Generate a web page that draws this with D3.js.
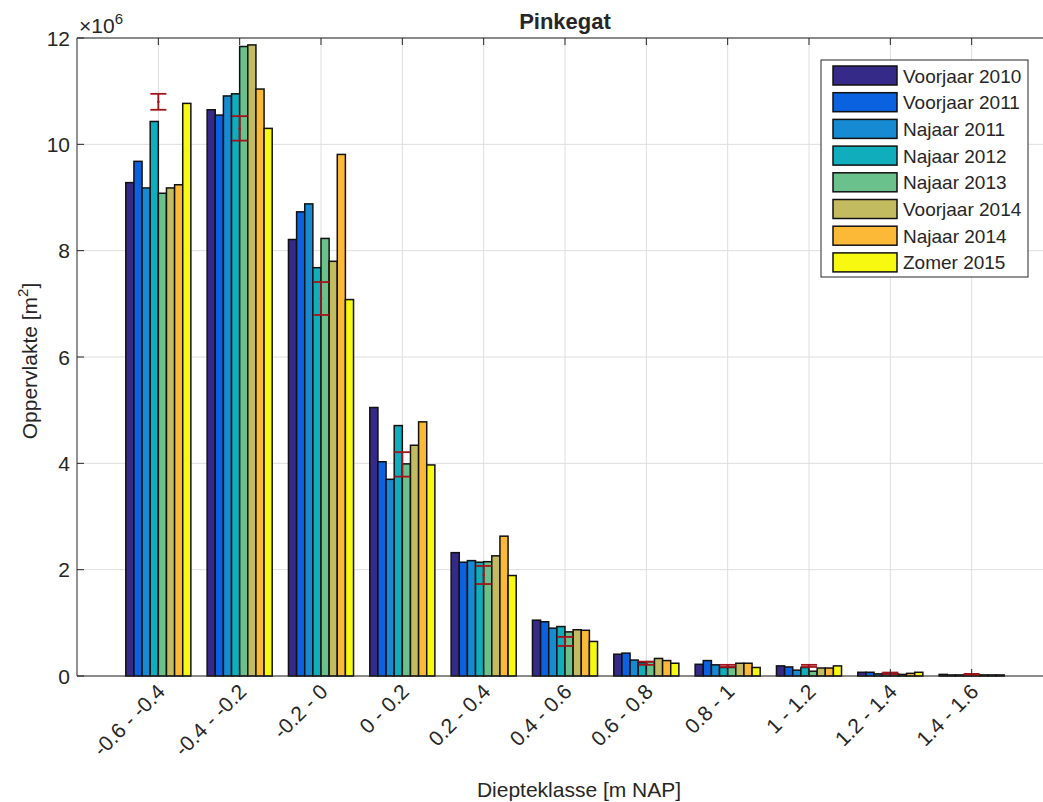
<!DOCTYPE html>
<html>
<head>
<meta charset="utf-8">
<script src="https://cdn.jsdelivr.net/npm/d3@7"></script>
<style>
  body { margin: 0; background: #fff; }
  text { font-family: "Liberation Sans", Arial, Helvetica, sans-serif; fill: #262626; }
</style>
</head>
<body>
<svg id="chart" width="1043" height="802"></svg>
<script>
// depth classes (m NAP)
var categories = ["-0.6 - -0.4", "-0.4 - -0.2", "-0.2 - 0", "0 - 0.2", "0.2 - 0.4", "0.4 - 0.6",
                  "0.6 - 0.8", "0.8 - 1", "1 - 1.2", "1.2 - 1.4", "1.4 - 1.6"];
var seriesNames = ["Voorjaar 2010", "Voorjaar 2011", "Najaar 2011", "Najaar 2012",
                   "Najaar 2013", "Voorjaar 2014", "Najaar 2014", "Zomer 2015"];
var seriesColors = ["#352a87", "#0b62e0", "#168ad2", "#10aebd", "#6bc18b", "#c3bb5f", "#fcb938", "#f8f910"];

// surface per class, x 10^6 m2, one array per survey
var voorjaar2010 = [9.28, 10.65, 8.21, 5.05, 2.32, 1.05, 0.41, 0.22, 0.19, 0.07, 0.03];
var voorjaar2011 = [9.68, 10.55, 8.73, 4.03, 2.14, 1.02, 0.43, 0.29, 0.17, 0.07, 0.02];
var najaar2011   = [9.18, 10.91, 8.88, 3.70, 2.17, 0.90, 0.30, 0.21, 0.11, 0.04, 0.02];
var najaar2012   = [10.43, 10.95, 7.68, 4.71, 2.14, 0.93, 0.25, 0.16, 0.16, 0.05, 0.02];
var najaar2013   = [9.08, 11.84, 8.23, 3.99, 2.15, 0.83, 0.27, 0.16, 0.09, 0.04, 0.02];
var voorjaar2014 = [9.18, 11.87, 7.80, 4.34, 2.26, 0.87, 0.33, 0.24, 0.15, 0.03, 0.02];
var najaar2014   = [9.24, 11.04, 9.81, 4.78, 2.63, 0.86, 0.29, 0.24, 0.15, 0.05, 0.02];
var zomer2015    = [10.77, 10.30, 7.08, 3.97, 1.89, 0.65, 0.24, 0.16, 0.19, 0.07, 0.02];

// error bars (mean and half-width)
var errMean = [10.80, 10.30, 7.10, 3.98, 1.90, 0.65, 0.24, 0.19, 0.19, 0.05, 0.03];
var errHalf = [0.15, 0.23, 0.31, 0.23, 0.17, 0.085, 0.03, 0.02, 0.02, 0.015, 0.01];

var yTicks = [0, 2, 4, 6, 8, 10, 12];

var allSeries = [voorjaar2010, voorjaar2011, najaar2011, najaar2012, najaar2013, voorjaar2014, najaar2014, zomer2015];

var svg = d3.select("#chart");
var pLeft = 77, pRight = 1053, pTop = 38, pBottom = 676;

var x = d3.scaleLinear().domain([0, 12]).range([pLeft, pRight]);
var y = d3.scaleLinear().domain([0, 12]).range([pBottom, pTop]);
var groupW = (x(1) - x(0)) * 0.8;
var xs = d3.scaleBand().domain(d3.range(seriesNames.length)).range([-groupW / 2, groupW / 2]);

svg.append("defs").append("clipPath").attr("id", "plotclip")
  .append("rect").attr("x", pLeft).attr("y", pTop - 2).attr("width", pRight - pLeft).attr("height", pBottom - pTop + 4);

var plot = svg.append("g").attr("clip-path", "url(#plotclip)");

// grid
plot.selectAll(".gy").data(yTicks).enter().append("line")
  .attr("x1", pLeft).attr("x2", pRight)
  .attr("y1", function (d) { return y(d); }).attr("y2", function (d) { return y(d); })
  .attr("stroke", "#dedede").attr("stroke-width", 1);
plot.selectAll(".gx").data(categories).enter().append("line")
  .attr("x1", function (d, i) { return x(i + 1); }).attr("x2", function (d, i) { return x(i + 1); })
  .attr("y1", pTop).attr("y2", pBottom)
  .attr("stroke", "#dedede").attr("stroke-width", 1);

// bars
allSeries.forEach(function (vals, s) {
  plot.selectAll(".bar" + s).data(vals).enter().append("rect")
    .attr("x", function (d, i) { return x(i + 1) + xs(s); })
    .attr("width", xs.bandwidth())
    .attr("y", function (d) { return y(d); })
    .attr("height", function (d) { return y(0) - y(d); })
    .attr("fill", seriesColors[s])
    .attr("stroke", "#111").attr("stroke-width", 1.5);
});

// error bars
var eb = plot.selectAll(".eb").data(errMean).enter().append("g");
eb.append("line")
  .attr("x1", function (d, i) { return x(i + 1); }).attr("x2", function (d, i) { return x(i + 1); })
  .attr("y1", function (d, i) { return y(d - errHalf[i]); })
  .attr("y2", function (d, i) { return y(d + errHalf[i]); });
eb.append("line")
  .attr("x1", function (d, i) { return x(i + 1) - 8; }).attr("x2", function (d, i) { return x(i + 1) + 8; })
  .attr("y1", function (d, i) { return y(d - errHalf[i]); })
  .attr("y2", function (d, i) { return y(d - errHalf[i]); });
eb.append("line")
  .attr("x1", function (d, i) { return x(i + 1) - 8; }).attr("x2", function (d, i) { return x(i + 1) + 8; })
  .attr("y1", function (d, i) { return y(d + errHalf[i]); })
  .attr("y2", function (d, i) { return y(d + errHalf[i]); });
eb.selectAll("line").attr("stroke", "#a2141c").attr("stroke-width", 1.8);
eb.append("circle")
  .attr("cx", function (d, i) { return x(i + 1); })
  .attr("cy", function (d) { return y(d); })
  .attr("r", 1.3).attr("fill", "#a2141c");

// axes frame
svg.append("line").attr("x1", pLeft).attr("x2", pRight).attr("y1", pTop).attr("y2", pTop).attr("stroke", "#262626");
svg.append("line").attr("x1", pLeft).attr("x2", pRight).attr("y1", pBottom).attr("y2", pBottom).attr("stroke", "#262626");
svg.append("line").attr("x1", pLeft).attr("x2", pLeft).attr("y1", pTop).attr("y2", pBottom).attr("stroke", "#262626");

// y ticks (inward)
svg.selectAll(".yt").data(yTicks).enter().append("line")
  .attr("x1", pLeft).attr("x2", pLeft + 7)
  .attr("y1", function (d) { return y(d); }).attr("y2", function (d) { return y(d); })
  .attr("stroke", "#262626");
svg.selectAll(".ytl").data(yTicks).enter().append("text")
  .attr("x", pLeft - 7).attr("y", function (d) { return y(d) + 7.5; })
  .attr("text-anchor", "end").style("font-size", "21px")
  .text(function (d) { return d; });

// x ticks (inward, bottom and top)
svg.selectAll(".xt").data(categories).enter().append("line")
  .attr("x1", function (d, i) { return x(i + 1); }).attr("x2", function (d, i) { return x(i + 1); })
  .attr("y1", pBottom).attr("y2", pBottom - 7).attr("stroke", "#262626");
svg.selectAll(".xtt").data(categories).enter().append("line")
  .attr("x1", function (d, i) { return x(i + 1); }).attr("x2", function (d, i) { return x(i + 1); })
  .attr("y1", pTop).attr("y2", pTop + 7).attr("stroke", "#262626");
svg.selectAll(".xtl").data(categories).enter().append("text")
  .attr("text-anchor", "end").style("font-size", "21px")
  .attr("transform", function (d, i) { return "translate(" + (x(i + 1) + 8) + "," + (pBottom + 17) + ") rotate(-45)"; })
  .text(function (d) { return d; });

// exponent label
var ex = svg.append("text").attr("x", 79).attr("y", 33).style("font-size", "21px");
ex.append("tspan").text("\u00d710");
ex.append("tspan").attr("dy", -9).style("font-size", "15px").text("6");

// title and axis labels
svg.append("text").attr("x", 565).attr("y", 29)
  .attr("text-anchor", "middle").style("font-size", "22px").style("font-weight", "bold").text("Pinkegat");
svg.append("text").attr("x", 579).attr("y", 797)
  .attr("text-anchor", "middle").style("font-size", "21px").text("Diepteklasse [m NAP]");
var yl = svg.append("text").attr("transform", "translate(37,361) rotate(-90)")
  .attr("text-anchor", "middle").style("font-size", "21px");
yl.append("tspan").text("Oppervlakte [m");
yl.append("tspan").attr("dy", -9).style("font-size", "15px").text("2");
yl.append("tspan").attr("dy", 9).text("]");

// legend
var lg = svg.append("g");
lg.append("rect").attr("x", 821).attr("y", 60).attr("width", 207).attr("height", 217)
  .attr("fill", "#fff").attr("stroke", "#262626").attr("stroke-width", 1);
var items = lg.selectAll(".li").data(seriesNames).enter().append("g")
  .attr("transform", function (d, i) { return "translate(0," + (66 + i * 26.7) + ")"; });
items.append("rect").attr("x", 833).attr("y", 0).attr("width", 64).attr("height", 19)
  .attr("fill", function (d, i) { return seriesColors[i]; })
  .attr("stroke", "#111").attr("stroke-width", 1.5);
items.append("text").attr("x", 903).attr("y", 16.5).style("font-size", "19px")
  .text(function (d) { return d; });
</script>
</body>
</html>
